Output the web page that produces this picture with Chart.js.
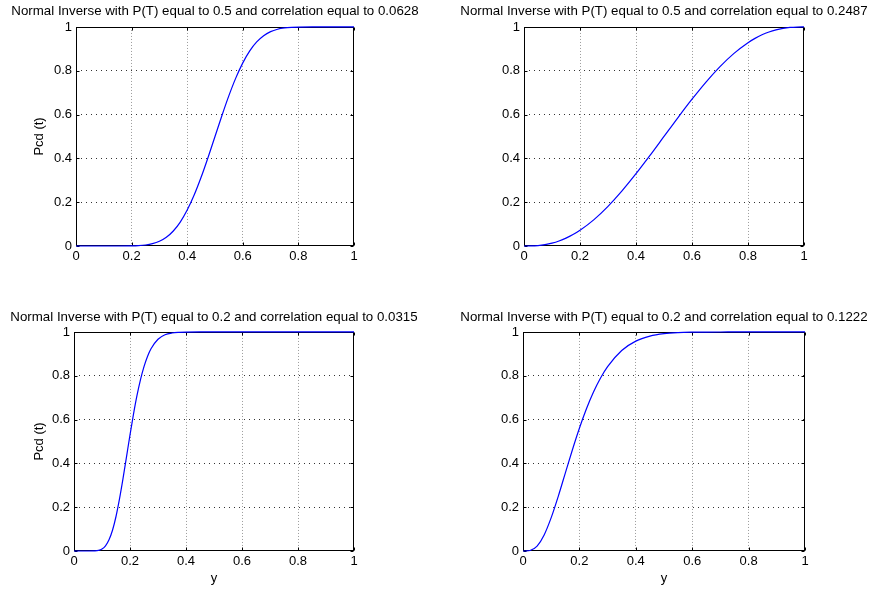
<!DOCTYPE html>
<html>
<head>
<meta charset="utf-8">
<script src="https://cdn.jsdelivr.net/npm/chart.js@4.4.1/dist/chart.umd.min.js"></script>
<style>
  html, body { margin: 0; padding: 0; background: #fff; }
  #wrap { position: relative; width: 870px; height: 589px; overflow: hidden; }
  canvas { position: absolute; }
</style>
</head>
<body>
<div id="wrap">
  <canvas id="c0"></canvas>
  <canvas id="c1"></canvas>
  <canvas id="c2"></canvas>
  <canvas id="c3"></canvas>
</div>
<script>
// values (y on the x axis, Pcd(t) on the y axis)
const tickLabels = ['0', '0.2', '0.4', '0.6', '0.8', '1'];

const titles = [
  'Normal Inverse with P(T) equal to 0.5 and correlation equal to 0.0628',
  'Normal Inverse with P(T) equal to 0.5 and correlation equal to 0.2487',
  'Normal Inverse with P(T) equal to 0.2 and correlation equal to 0.0315',
  'Normal Inverse with P(T) equal to 0.2 and correlation equal to 0.1222'
];

const xsA = [0, 0.05, 0.1, 0.15, 0.2, 0.225, 0.25, 0.275, 0.3, 0.325, 0.35, 0.375, 0.4, 0.425, 0.45, 0.475,
  0.5, 0.525, 0.55, 0.575, 0.6, 0.625, 0.65, 0.675, 0.7, 0.725, 0.75, 0.775, 0.8, 0.85, 0.9, 0.95, 1];
const ysA = [0, 0, 0, 0.00003, 0.0006, 0.0018, 0.0046, 0.0105, 0.0214, 0.0398, 0.0684, 0.1092, 0.164, 0.2325, 0.3136, 0.4043,
  0.5, 0.5957, 0.6864, 0.7675, 0.836, 0.8908, 0.9316, 0.9602, 0.9786, 0.9895, 0.9954, 0.9982, 0.9994, 1, 1, 1, 1];

const xsB = [0, 0.025, 0.05, 0.075, 0.1, 0.125, 0.15, 0.175, 0.2, 0.25, 0.3, 0.35, 0.4, 0.45, 0.5,
  0.55, 0.6, 0.65, 0.7, 0.75, 0.8, 0.825, 0.85, 0.875, 0.9, 0.925, 0.95, 0.975, 1];
const ysB = [0, 0.0003, 0.0021, 0.0062, 0.013, 0.0228, 0.0358, 0.0521, 0.0718, 0.1205, 0.181, 0.2515, 0.3299, 0.4135, 0.5,
  0.5865, 0.6701, 0.7485, 0.819, 0.8795, 0.9282, 0.9479, 0.9642, 0.9772, 0.987, 0.9938, 0.9979, 0.9997, 1];

const xsC = [0, 0.05, 0.075, 0.0875, 0.1, 0.1125, 0.125, 0.1375, 0.15, 0.1625, 0.175, 0.1875, 0.2, 0.2125, 0.225,
  0.2375, 0.25, 0.2625, 0.275, 0.3, 0.325, 0.35, 0.375, 0.4, 0.45, 0.5, 0.6, 0.7, 0.8, 0.9, 1];
const ysC = [0, 0, 0.0006, 0.0027, 0.009, 0.0236, 0.0509, 0.0946, 0.1575, 0.2376, 0.33, 0.43, 0.53, 0.6248, 0.71,
  0.7826, 0.8418, 0.8882, 0.9232, 0.9667, 0.987, 0.9954, 0.9985, 0.9996, 1, 1, 1, 1, 1, 1, 1];

const xsD = [0, 0.01, 0.025, 0.05, 0.075, 0.1, 0.125, 0.15, 0.175, 0.2, 0.225, 0.25, 0.275, 0.3,
  0.35, 0.4, 0.45, 0.5, 0.55, 0.6, 0.65, 0.7, 0.8, 0.9, 1];
const ysD = [0, 0.0001, 0.0022, 0.0227, 0.0734, 0.1522, 0.2496, 0.3556, 0.4612, 0.5603, 0.6491, 0.7257, 0.7897, 0.8418,
  0.9154, 0.9581, 0.9808, 0.992, 0.997, 0.999, 0.9997, 0.9999, 1, 1, 1];

const FONT = "'Liberation Sans', Arial, Helvetica, sans-serif";
Chart.defaults.font.family = FONT;
Chart.defaults.color = '#000';

// canvas placement and the plot box inside each one
const panels = [
  { id: 'c0', left: 0,   top: 0,   w: 430, h: 295, yW: 76, padR: 76, xH: 49, tTop: 3.7,  tBot: 7.7, xs: xsA, ys: ysA, title: titles[0], yLabel: 'Pcd (t)', xLabel: '' },
  { id: 'c1', left: 459, top: 0,   w: 410, h: 295, yW: 65, padR: 65, xH: 49, tTop: 3.7,  tBot: 7.7, xs: xsB, ys: ysB, title: titles[1], yLabel: '',        xLabel: '' },
  { id: 'c2', left: 0,   top: 295, w: 428, h: 294, yW: 74, padR: 74, xH: 38, tTop: 14.4, tBot: 7.0, xs: xsC, ys: ysC, title: titles[2], yLabel: 'Pcd (t)', xLabel: 'y' },
  { id: 'c3', left: 459, top: 295, w: 410, h: 294, yW: 64, padR: 64, xH: 38, tTop: 14.4, tBot: 7.0, xs: xsD, ys: ysD, title: titles[3], yLabel: '',        xLabel: 'y' }
];

// hide grid lines on the box edges, the frame plugin draws those
const gridColor = c => ctx => (ctx.tick && (ctx.tick.value <= 0 || ctx.tick.value >= 1)) ? 'rgba(0,0,0,0)' : c;

// MATLAB-like box with inward tick marks on all four sides
const framePlugin = {
  id: 'frame',
  beforeDatasetsDraw(chart) {
    const { ctx, chartArea: a, scales } = chart;
    const l = Math.round(a.left) + 0.5, r = Math.round(a.right) - 0.5;
    const t = Math.round(a.top) + 0.5, b = Math.round(a.bottom) - 0.5;
    ctx.save();
    ctx.strokeStyle = '#000';
    ctx.lineWidth = 1;
    ctx.strokeRect(l, t, r - l, b - t);
    ctx.beginPath();
    scales.x.ticks.forEach(tk => {
      const px = Math.round(scales.x.getPixelForValue(tk.value)) + 0.5;
      ctx.moveTo(px, b); ctx.lineTo(px, b - 3);
      ctx.moveTo(px, t); ctx.lineTo(px, t + 3);
    });
    scales.y.ticks.forEach(tk => {
      const py = Math.round(scales.y.getPixelForValue(tk.value)) + 0.5;
      ctx.moveTo(l, py); ctx.lineTo(l + 3, py);
      ctx.moveTo(r, py); ctx.lineTo(r - 3, py);
    });
    ctx.stroke();
    ctx.restore();
  }
};

panels.forEach(p => {
  const canvas = document.getElementById(p.id);
  canvas.width = p.w;
  canvas.height = p.h;
  canvas.style.left = p.left + 'px';
  canvas.style.top = p.top + 'px';

  const points = p.xs.map((x, i) => ({ x: x, y: p.ys[i] }));
  const font = { family: FONT, size: 13 };

  new Chart(canvas, {
    type: 'line',
    data: {
      datasets: [{
        data: points,
        borderColor: '#0000ff',
        borderWidth: 1.2,
        pointRadius: 0,
        cubicInterpolationMode: 'monotone',
        fill: false,
        clip: 4
      }]
    },
    options: {
      responsive: false,
      animation: false,
      devicePixelRatio: 1,
      layout: { padding: 0 },
      plugins: {
        legend: { display: false },
        tooltip: { enabled: false },
        title: {
          display: true,
          text: p.title,
          color: '#000',
          font: { family: FONT, size: 13.3, weight: 'normal', lineHeight: 1.17 },
          padding: { top: p.tTop, bottom: p.tBot }
        }
      },
      scales: {
        x: {
          type: 'linear',
          min: 0,
          max: 1,
          afterFit: s => { s.height = p.xH; },
          ticks: {
            stepSize: 0.2, padding: 3, color: '#000', font: font,
            maxRotation: 0, autoSkip: false,
            callback: (v, i) => tickLabels[i]
          },
          grid: { color: gridColor('#9c9c9c'), drawTicks: false, lineWidth: 1 },
          border: { display: false, dash: [1, 2] },
          title: { display: !!p.xLabel, text: p.xLabel, color: '#000', font: font, padding: { top: 0, bottom: 3.2 } }
        },
        y: {
          type: 'linear',
          min: 0,
          max: 1,
          afterFit: s => { s.width = p.yW; },
          ticks: {
            stepSize: 0.2, padding: 4, color: '#000', font: font,
            autoSkip: false,
            callback: (v, i) => tickLabels[i]
          },
          grid: { color: gridColor('#333333'), drawTicks: false, lineWidth: 1 },
          border: { display: false, dash: [1, 4] },
          title: { display: !!p.yLabel, text: p.yLabel, color: '#000', font: font, padding: { top: 31.2, bottom: 0 } }
        },
        // empty right-hand axis that only reserves the blank margin, keeping the title centred on the box
        yRight: {
          type: 'linear',
          position: 'right',
          min: 0,
          max: 1,
          afterFit: s => { s.width = p.padR; },
          ticks: { display: false },
          grid: { display: false },
          border: { display: false }
        }
      }
    },
    plugins: [framePlugin]
  });
});
</script>
</body>
</html>
